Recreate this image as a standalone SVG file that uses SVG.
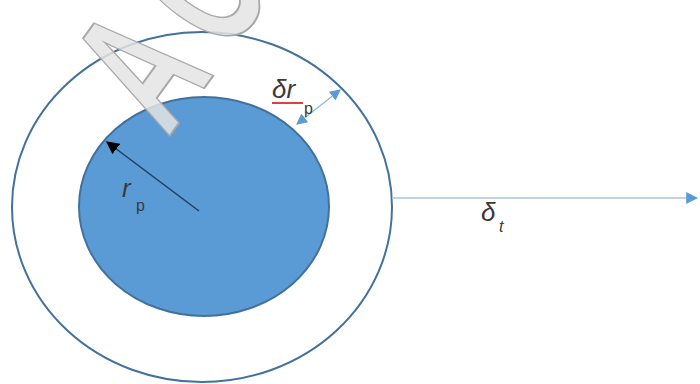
<svg xmlns="http://www.w3.org/2000/svg" width="700" height="384" viewBox="0 0 700 384">
<style>
.lbl{font-family:"Liberation Sans",Arial,sans-serif;fill:#3a3a3a;font-style:italic}
.sub{font-family:"Liberation Sans",Arial,sans-serif;fill:#3a3a3a}
.wm{font-family:"Liberation Sans",Arial,sans-serif;font-weight:bold;font-size:185px;fill:#e4e4e4;fill-opacity:0.85;stroke:#a8a8a8;stroke-width:2}
</style>
<defs>
<marker id="blk" viewBox="0 0 10 10" refX="9" refY="5" markerWidth="13" markerHeight="13" orient="auto-start-reverse" markerUnits="userSpaceOnUse"><path d="M0,0 L10,5 L0,10 z" fill="#000"/></marker>
<marker id="blu" viewBox="0 0 10 10" refX="9" refY="5" markerWidth="12" markerHeight="12" orient="auto-start-reverse" markerUnits="userSpaceOnUse"><path d="M0,0 L10,5 L0,10 z" fill="#5b9bd5"/></marker>
<marker id="blus" viewBox="0 0 10 10" refX="9" refY="5" markerWidth="11" markerHeight="11" orient="auto-start-reverse" markerUnits="userSpaceOnUse"><path d="M0,0 L10,5 L0,10 z" fill="#5b9bd5"/></marker>
</defs>
<rect width="700" height="384" fill="#fff"/>
<g id="outer">
<ellipse cx="202" cy="207" rx="190" ry="175" fill="none" stroke="#41719c" stroke-width="2"/>
</g>
<g id="particle">
<ellipse cx="204" cy="206.5" rx="125" ry="109.5" fill="#5b9bd5" stroke="#41719c" stroke-width="2"/>
</g>
<g id="connectors">
<line x1="199" y1="211" x2="107" y2="142" stroke="#1f3f60" stroke-width="1.5" marker-end="url(#blk)"/>
<line x1="297" y1="124" x2="340" y2="90" stroke="#8fb6e0" stroke-width="1.2" marker-start="url(#blus)" marker-end="url(#blus)"/>
<line x1="392" y1="198" x2="697" y2="198" stroke="#a9c4de" stroke-width="1.5" marker-end="url(#blu)"/>
</g>
<g id="label-rp">
<text class="lbl" x="122" y="197" font-size="26">r</text>
<text class="sub" x="136" y="211" font-size="16">p</text>
</g>
<g id="label-drp">
<text class="lbl" x="272" y="98" font-size="26">δr</text>
<line x1="272" y1="103" x2="303" y2="103" stroke="#e0403a" stroke-width="2"/>
<text class="sub" x="304" y="114" font-size="16">p</text>
</g>
<g id="label-dt">
<text class="lbl" x="481" y="221" font-size="26">δ</text>
<text class="lbl" x="499" y="232" font-size="16">t</text>
</g>
<g id="watermark" transform="translate(168,138) rotate(-54) scale(0.6,1)">
<text class="wm" x="0" y="0">A</text>
<text class="wm" x="168" y="0">C</text>
</g>
</svg>
